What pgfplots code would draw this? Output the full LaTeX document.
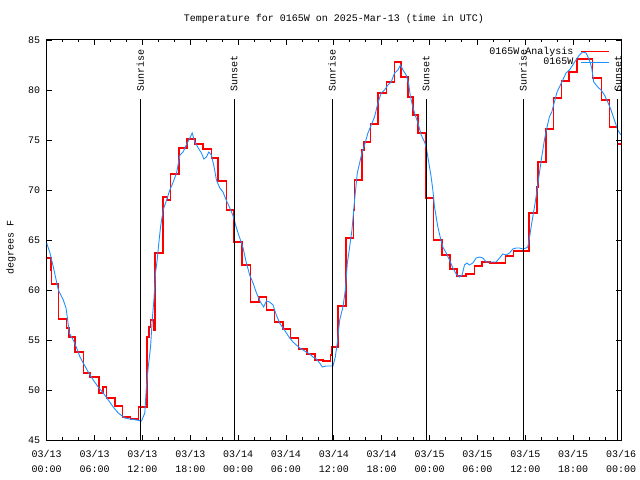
\documentclass[border=0pt]{standalone}
\usepackage{pgfplots}
\pgfplotsset{compat=1.18}
\usepackage{fontspec}
\setmainfont{Liberation Mono}
\newcommand\gf{\fontsize{10bp}{12bp}\selectfont}
\definecolor{gblue}{HTML}{1E90FF}
\definecolor{gred}{HTML}{FF0000}
\begin{document}
\begin{tikzpicture}
\path[use as bounding box] (0,0) rectangle (640bp,480bp);
\node[font=\gf] at (334bp,461bp) {Temperature for 0165W on 2025-Mar-13 (time in UTC)};
\node[font=\gf, rotate=90] at (11bp,232.5bp) {degrees F};
\begin{axis}[
  at={(46.7bp,40bp)}, anchor=south west,
  scale only axis, width=574.3bp, height=400bp,
  xmin=0, xmax=72, ymin=45, ymax=85,
  xtick={0,6,...,72},
  xticklabels={03/13\\00:00,03/13\\06:00,03/13\\12:00,03/13\\18:00,03/14\\00:00,03/14\\06:00,03/14\\12:00,03/14\\18:00,03/15\\00:00,03/15\\06:00,03/15\\12:00,03/15\\18:00,03/16\\00:00},
  minor x tick num=2,
  ytick={45,50,...,85},
  tick align=inside,
  major tick length=5bp, minor tick length=2.5bp,
  every tick/.style={black, line width=0.8bp},
  axis line style={line width=1bp, black},
  xticklabel style={font=\fontsize{10bp}{15bp}\selectfont, align=center, yshift=-7bp},
  yticklabel style={font=\gf, /pgf/number format/assume math mode=true, xshift=-3bp},
  legend style={at={(rel axis cs:0.981,0.985)}, anchor=north east, draw=none, fill=none,
    inner sep=0pt, font=\gf, nodes={inner sep=1bp}, column sep=6bp, row sep=0bp},
  legend plot pos=right, legend cell align=right,
  legend image code/.code={\draw[#1] (0bp,0bp) -- (28bp,0bp);},
]
\addplot[gred, line width=1.6bp, const plot] coordinates {
(0,63.2) (0.52,62.0) (0.6,60.6) (1.46,57.1) (2.5,56.2) (2.83,55.3) (3.54,53.8) (4.59,51.7)
(5.42,51.3) (6.55,49.7) (7.09,50.3) (7.5,49.2) (8.55,48.4) (9.51,47.3) (10.5,47.1) (11.5,48.3)
(12.55,55.3) (12.81,56.3) (13.02,57.0) (13.44,56.0) (13.56,63.7) (14.6,69.3) (15.15,69.0)
(15.52,71.6) (16.57,74.2) (17.6,75.1) (18.57,74.6) (19.6,74.1) (20.65,73.2) (21.49,70.9)
(22.53,68.0) (23.5,64.8) (24.5,62.5) (25.54,58.8) (26.59,59.3) (27.54,58.0) (28.58,56.8)
(29.63,56.1) (30.55,55.2) (31.59,54.1) (32.64,53.6) (33.6,53.0) (34.64,52.9) (35.56,53.5)
(35.7,54.3) (36.52,58.4) (37.5,65.2) (38.48,68.0) (38.6,71.0) (39.5,74.0) (39.8,74.8)
(40.6,76.6) (41.55,79.7) (42.6,80.8) (43.6,82.8) (44.45,81.3) (45.3,79.3) (45.9,77.5)
(46.54,75.7) (47.5,69.2) (48.5,65.0) (49.54,63.5) (50.55,62.1) (51.45,61.4) (52.59,61.6)
(53.63,62.4) (54.59,62.8) (55.55,62.7) (57.5,63.4) (58.5,63.9) (60.5,67.7) (61.45,70.3)
(61.56,72.8) (62.6,76.1) (63.55,79.2) (64.55,80.9) (65.5,81.8) (66.5,83.1) (68.45,81.2)
(69.55,79.0) (70.55,76.3) (71.58,74.6) (72,74.6)
};
\addlegendentry{0165W Analysis}
\addplot[gblue, line width=0.9bp] coordinates {
(0,64.7) (0.41,63.7) (0.83,62.3) (1.46,60.0) (2.08,59.0) (2.42,58.2) (2.58,57.3) (2.83,55.7)
(3.33,55.0) (3.75,54.2) (4.17,53.3) (4.58,52.7) (5.21,51.8) (5.83,51.0) (6.46,50.3) (7.09,49.7)
(7.72,49.0) (8.34,48.3) (8.97,47.7) (9.8,47.2) (10.4,47.1) (11.26,47.0) (11.89,46.9) (12.3,47.7)
(12.5,50.3) (12.73,52.3) (13.02,54.3) (13.23,57.0) (13.44,59.0) (13.64,61.7) (13.85,63.0)
(14.06,64.7) (14.27,66.3) (14.6,68.0) (15.03,69.0) (15.44,70.0) (15.86,70.8) (16.28,71.7)
(16.7,73.5) (17.1,73.8) (17.5,74.5) (17.95,75.2) (18.24,75.7) (18.57,74.8) (19.0,74.2)
(19.4,73.7) (19.7,73.1) (20.03,73.3) (20.32,73.8) (20.65,73.5) (20.99,72.3) (21.28,71.0)
(21.7,70.2) (22.1,69.8) (22.5,69.0) (22.96,68.2) (23.37,67.4) (23.79,66.2) (24.2,65.2)
(24.62,64.2) (25.03,62.7) (25.45,61.5) (25.87,60.7) (26.3,59.7) (26.79,58.8) (27.2,58.3)
(27.54,58.9) (27.96,58.8) (28.37,58.5) (28.79,57.5) (29.2,56.7) (29.63,56.2) (30.05,55.7)
(30.46,55.2) (30.88,54.8) (31.3,54.5) (31.72,54.2) (32.13,54.0) (32.55,53.8) (32.97,53.6)
(33.38,53.3) (33.8,53.1) (34.22,52.7) (34.55,52.3) (35.05,52.4) (35.47,52.4) (35.89,52.4)
(36.18,53.3) (36.43,54.7) (36.73,57.0) (37.14,58.3) (37.44,60.0) (37.69,62.7) (37.98,64.3)
(38.27,66.0) (38.6,69.0) (38.94,71.7) (39.23,72.7) (39.52,73.7) (39.85,74.5) (40.27,75.7)
(40.69,76.5) (41.1,77.3) (41.52,78.7) (41.94,79.7) (42.36,80.0) (42.78,80.5) (43.19,80.8)
(43.61,81.7) (44.03,82.0) (44.36,82.5) (44.66,82.0) (45.07,81.5) (45.36,80.7) (45.61,79.3)
(45.9,78.3) (46.2,77.5) (46.54,76.7) (46.95,75.5) (47.37,74.8) (47.58,74.3) (47.91,72.7)
(48.2,71.3) (48.41,70.0) (48.62,68.3) (48.83,67.3) (49.04,66.3) (49.33,65.3) (49.66,64.3)
(50.08,63.7) (50.5,63.0) (50.92,62.2) (51.33,61.6) (51.75,61.3) (52.08,61.5) (52.38,62.5)
(52.67,62.7) (53.0,62.5) (53.42,62.7) (53.84,63.2) (54.26,63.3) (54.68,63.2) (55.1,62.8)
(55.72,62.8) (56.35,62.8) (56.77,63.2) (57.19,63.6) (57.6,63.5) (58.02,63.7) (58.44,64.1)
(58.86,64.2) (59.27,64.2) (59.69,64.1) (60.1,64.2) (60.31,64.3) (60.52,65.2) (60.73,66.3)
(60.94,67.3) (61.23,68.7) (61.48,70.0) (61.77,71.7) (62.06,73.3) (62.4,75.0) (62.73,76.3)
(63.02,77.3) (63.32,77.8) (63.65,78.8) (63.98,79.8) (64.28,80.3) (64.7,81.0) (65.11,81.7)
(65.53,82.0) (65.95,82.5) (66.36,83.0) (66.78,83.5) (67.2,83.8) (67.62,83.7) (68.04,83.0)
(68.33,82.2) (68.58,80.8) (69.08,80.3) (69.5,80.0) (69.92,79.5) (70.34,78.8) (70.75,78.0)
(71.17,77.0) (71.59,76.0) (72.0,75.5)
};
\addlegendentry{0165W}
\addplot[black, line width=1bp, forget plot] coordinates {(11.75,45) (11.75,79.1)}
  node[pos=1, rotate=90, anchor=west, inner xsep=7bp, inner ysep=0pt, font=\gf] {Sunrise};
\addplot[black, line width=1bp, forget plot] coordinates {(23.5,45) (23.5,79.1)}
  node[pos=1, rotate=90, anchor=west, inner xsep=7bp, inner ysep=0pt, font=\gf] {Sunset};
\addplot[black, line width=1bp, forget plot] coordinates {(35.77,45) (35.77,79.1)}
  node[pos=1, rotate=90, anchor=west, inner xsep=7bp, inner ysep=0pt, font=\gf] {Sunrise};
\addplot[black, line width=1bp, forget plot] coordinates {(47.56,45) (47.56,79.1)}
  node[pos=1, rotate=90, anchor=west, inner xsep=7bp, inner ysep=0pt, font=\gf] {Sunset};
\addplot[black, line width=1bp, forget plot] coordinates {(59.72,45) (59.72,79.1)}
  node[pos=1, rotate=90, anchor=west, inner xsep=7bp, inner ysep=0pt, font=\gf] {Sunrise};
\addplot[black, line width=1bp, forget plot] coordinates {(71.62,45) (71.62,79.1)}
  node[pos=1, rotate=90, anchor=west, inner xsep=7bp, inner ysep=0pt, font=\gf] {Sunset};
\end{axis}
\end{tikzpicture}
\end{document}
